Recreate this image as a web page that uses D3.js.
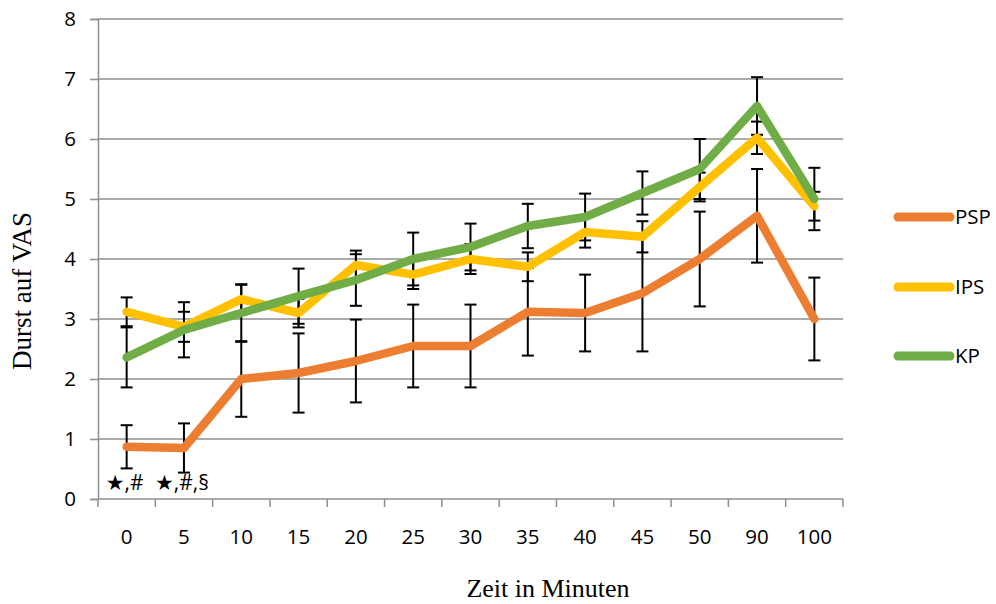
<!DOCTYPE html>
<html><head><meta charset="utf-8">
<script src="https://cdn.jsdelivr.net/npm/d3@7"></script>
<style>html,body{margin:0;padding:0;background:#fff;}svg{display:block;}</style>
</head><body>
<svg id="chart" width="996" height="604"></svg>
<script>
const categories = ["0","5","10","15","20","25","30","35","40","45","50","90","100"];
const yTicks = [0,1,2,3,4,5,6,7,8];
const seriesNames = ["PSP","IPS","KP"];
const seriesColors = ["#ED7D31","#FFC000","#70AD47"];
const PSP = [0.87,0.85,2.0,2.1,2.3,2.55,2.55,3.12,3.1,3.43,4.0,4.72,3.0];
const PSP_err = [0.36,0.41,0.63,0.66,0.69,0.69,0.69,0.73,0.64,0.97,0.79,0.78,0.69];
const IPS = [3.12,2.87,3.33,3.1,3.9,3.74,4.0,3.87,4.45,4.37,5.2,6.02,4.88];
const IPS_err = [0.24,0.25,0.24,0.24,0.24,0.24,0.25,0.24,0.26,0.26,0.24,0.27,0.24];
const KP = [2.36,2.82,3.1,3.38,3.65,4.0,4.2,4.55,4.7,5.1,5.5,6.55,5.0];
const KP_err = [0.5,0.46,0.48,0.46,0.43,0.44,0.39,0.37,0.39,0.36,0.5,0.48,0.52];
const annotations = [{cat:"0", text:"★,#"},{cat:"5", text:"★,#,§"}];
const yTitle = "Durst auf VAS";
const xTitle = "Zeit in Minuten";

(function(){
const series = [
  {name:seriesNames[0], color:seriesColors[0], values:PSP, err:PSP_err},
  {name:seriesNames[1], color:seriesColors[1], values:IPS, err:IPS_err},
  {name:seriesNames[2], color:seriesColors[2], values:KP, err:KP_err}
];

const svg = d3.select("#chart");
const pLeft = 98, pRight = 843, pTop = 19, pBottom = 499;
const x = d3.scaleBand().domain(categories).range([pLeft, pRight]).padding(0);
const y = d3.scaleLinear().domain([0, 8]).range([pBottom, pTop]);
const cx = c => x(c) + x.bandwidth() / 2;
const gridColor = "#8f8f8f";
const sans = "'Open Sans', 'DejaVu Sans', sans-serif";
const serif = "'Liberation Serif', 'DejaVu Serif', serif";

// gridlines
svg.append("g").selectAll("line").data(yTicks.filter(d => d > 0)).join("line")
  .attr("x1", pLeft).attr("x2", pRight)
  .attr("y1", d => y(d)).attr("y2", d => y(d))
  .attr("stroke", gridColor).attr("stroke-width", 1.5);

// y axis
const yAxis = svg.append("g").attr("transform", `translate(${pLeft},0)`)
  .call(d3.axisLeft(y).tickValues(yTicks).tickSize(8).tickPadding(14).tickFormat(d3.format("d")));
yAxis.select(".domain").attr("stroke", gridColor).attr("stroke-width", 1.5);
yAxis.selectAll(".tick line").attr("stroke", gridColor).attr("stroke-width", 1.5);
yAxis.selectAll("text").attr("font-family", sans).attr("font-size", 20.5).attr("fill", "#000");

// x axis
svg.append("line").attr("x1", pLeft).attr("x2", pRight).attr("y1", pBottom).attr("y2", pBottom)
  .attr("stroke", gridColor).attr("stroke-width", 1.5);
const edges = categories.map(c => x(c)).concat([x(categories[categories.length-1]) + x.bandwidth()]);
svg.append("g").selectAll("line").data(edges).join("line")
  .attr("x1", d => d).attr("x2", d => d).attr("y1", pBottom).attr("y2", pBottom + 8)
  .attr("stroke", gridColor).attr("stroke-width", 1.5);
svg.append("g").selectAll("text").data(categories).join("text")
  .attr("x", d => cx(d)).attr("y", 544)
  .attr("text-anchor", "middle").attr("font-family", sans).attr("font-size", 20.5)
  .text(d => d);

// error bars
const cap = 6;
series.forEach(s => {
  const g = svg.append("g").attr("stroke", "#000").attr("stroke-width", 2);
  categories.forEach((c, i) => {
    const v = s.values[i], e = s.err[i];
    const x0 = cx(c);
    g.append("line").attr("x1", x0).attr("x2", x0).attr("y1", y(v + e)).attr("y2", y(v - e));
    g.append("line").attr("x1", x0 - cap).attr("x2", x0 + cap).attr("y1", y(v + e)).attr("y2", y(v + e));
    g.append("line").attr("x1", x0 - cap).attr("x2", x0 + cap).attr("y1", y(v - e)).attr("y2", y(v - e));
  });
});

// lines
const lineGen = d3.line().x((d, i) => cx(categories[i])).y(d => y(d));
series.forEach(s => {
  svg.append("path").datum(s.values).attr("d", lineGen)
    .attr("fill", "none").attr("stroke", s.color).attr("stroke-width", 8.5)
    .attr("stroke-linejoin", "round").attr("stroke-linecap", "round");
});

// annotations
svg.append("g").selectAll("text").data(annotations).join("text")
  .attr("x", d => cx(d.cat) - 2).attr("y", 490).attr("text-anchor", "middle")
  .attr("font-family", sans).attr("font-size", 21).text(d => d.text);

// legend
const legY = [217, 287, 356];
const leg = svg.append("g");
series.forEach((s, i) => {
  leg.append("line").attr("x1", 898).attr("x2", 950).attr("y1", legY[i]).attr("y2", legY[i])
    .attr("stroke", s.color).attr("stroke-width", 9).attr("stroke-linecap", "round");
  leg.append("text").attr("x", 955).attr("y", legY[i] + 7)
    .attr("font-family", sans).attr("font-size", 20.5).text(s.name);
});

// titles
svg.append("text").attr("transform", "translate(31,291) rotate(-90)")
  .attr("text-anchor", "middle").attr("font-family", serif).attr("font-size", 27).text(yTitle);
svg.append("text").attr("x", 548).attr("y", 597)
  .attr("text-anchor", "middle").attr("font-family", serif).attr("font-size", 26).text(xTitle);
})();
</script>
</body></html>
